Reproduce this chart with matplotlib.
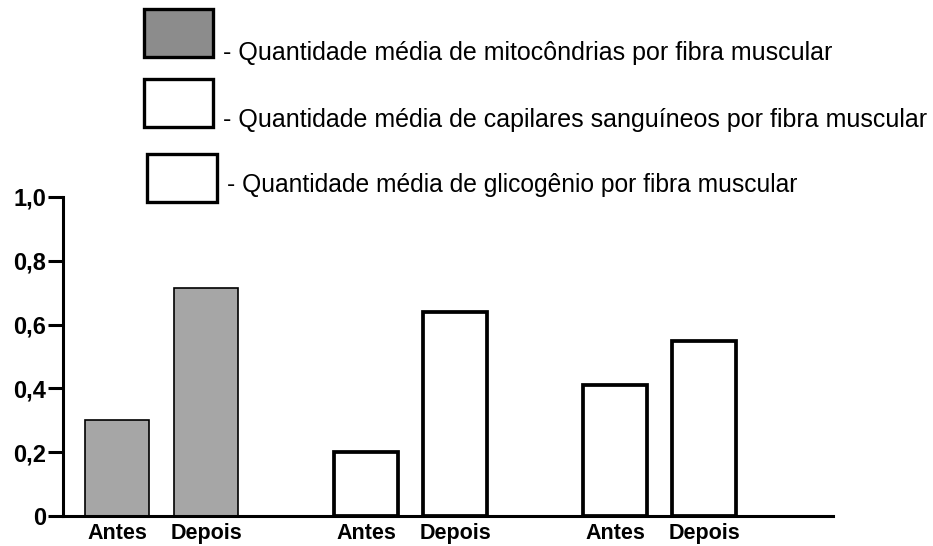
import matplotlib.pyplot as plt
from matplotlib.patches import Rectangle

plt.rcParams['font.family'] = ['Liberation Sans', 'DejaVu Sans']

# dados
grupos = ['Mitocôndrias', 'Capilares', 'Glicogênio']
momentos = ['Antes', 'Depois']
mitocondrias = [0.30, 0.715]
capilares = [0.20, 0.64]
glicogenio = [0.41, 0.55]
legenda = [
    '- Quantidade média de mitocôndrias por fibra muscular',
    '- Quantidade média de capilares sanguíneos por fibra muscular',
    '- Quantidade média de glicogênio por fibra muscular',
]
yticks = [0, 0.2, 0.4, 0.6, 0.8, 1.0]
ytick_labels = ['0', '0,2', '0,4', '0,6', '0,8', '1,0']

W, H = 933, 546
fig = plt.figure(figsize=(W / 100, H / 100), dpi=100)
ax = fig.add_axes([63 / W, 30 / H, 770 / W, 319 / H])

gap = 2.8
largura = 0.72
series = [mitocondrias, capilares, glicogenio]
estilos = [
    dict(facecolor='#a6a6a6', edgecolor='black', linewidth=1.2),
    dict(facecolor='white', edgecolor='black', linewidth=2.7),
    dict(facecolor='white', edgecolor='black', linewidth=2.7),
]

xpos, xlab = [], []
for g, valores in enumerate(series):
    xs = [g * gap + i for i in range(len(valores))]
    ax.bar(xs, valores, width=largura, **estilos[g], zorder=2)
    xpos += xs
    xlab += momentos

ax.set_xlim(-0.607, 8.045)
ax.set_ylim(0, 1.0)
ax.set_yticks(yticks)
ax.set_yticklabels(ytick_labels, fontsize=17, fontweight='bold')
ax.set_xticks(xpos)
ax.set_xticklabels(xlab, fontsize=15.5, fontweight='bold')
ax.tick_params(axis='y', direction='out', length=11, width=2.2, pad=1)
ax.tick_params(axis='x', length=0, pad=5)

for s in ['top', 'right']:
    ax.spines[s].set_visible(False)
for s in ['left', 'bottom']:
    ax.spines[s].set_linewidth(2.2)
    ax.spines[s].set_zorder(3)

# legenda manual no topo
caixas = [(144, 9, 69, 48), (144, 79, 69, 48), (147, 154, 70, 48)]
cores = ['#8c8c8c', 'white', 'white']
base_y = [60, 127, 192]
tam = [18, 18, 17.7]
for (x, y, w, h), cor, by, fs, txt in zip(caixas, cores, base_y, tam, legenda):
    fig.add_artist(Rectangle((x / W, 1 - (y + h) / H), w / W, h / H,
                             facecolor=cor, edgecolor='black', linewidth=2.4,
                             transform=fig.transFigure))
    fig.text((x + w + 10) / W, 1 - by / H, txt, fontsize=fs,
             ha='left', va='baseline')

fig.savefig('out.png', dpi=100)
